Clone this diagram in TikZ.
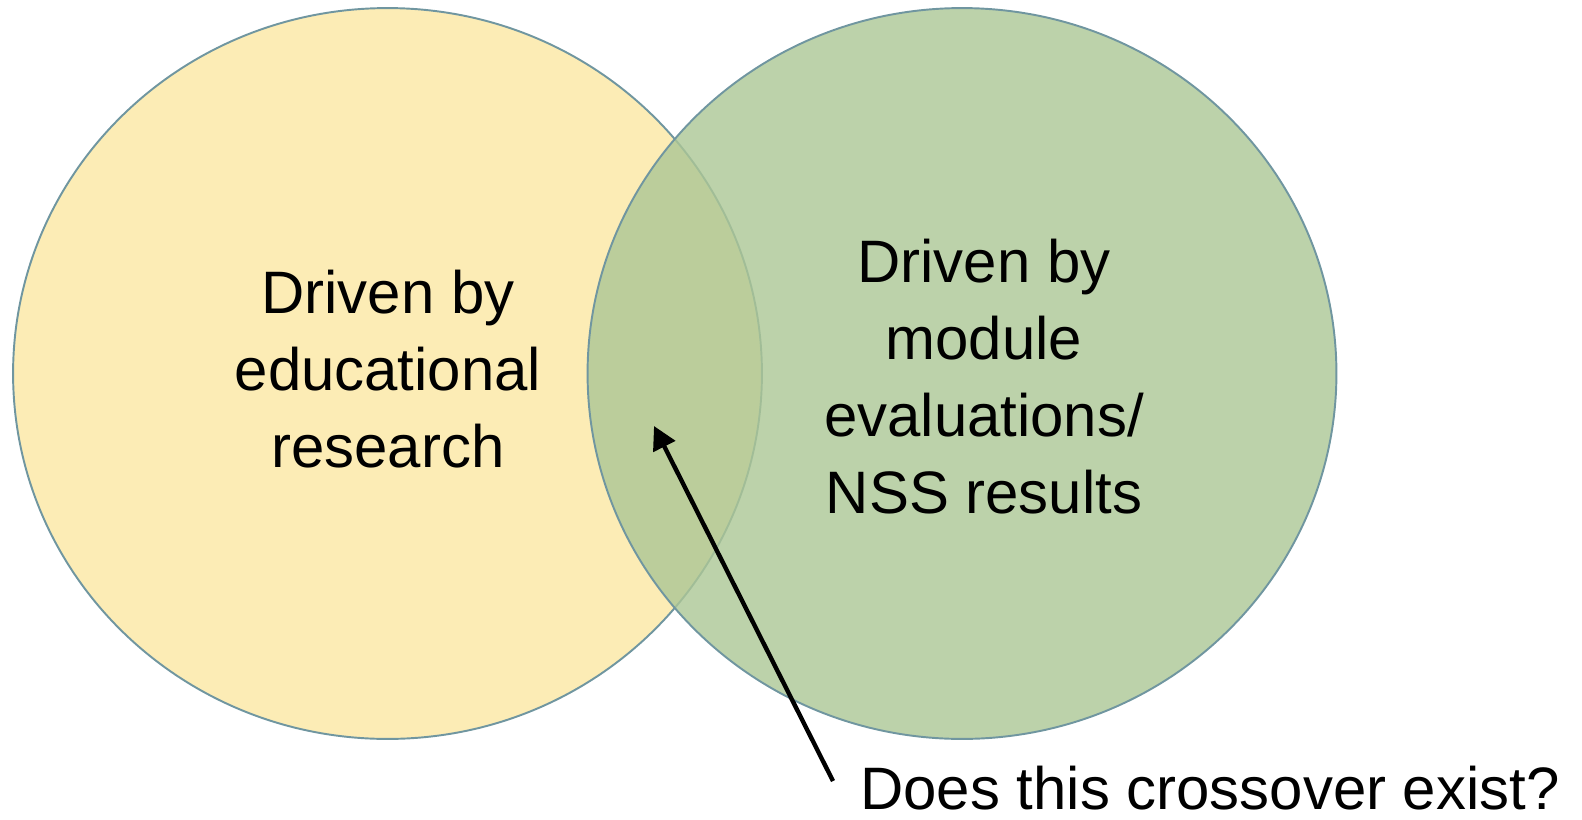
\documentclass[tikz,border=0pt]{standalone}
\usepackage{fontspec}
\setmainfont{Liberation Sans}
\usepackage{tikz}
\usetikzlibrary{arrows.meta,shapes.geometric}
\definecolor{PaleYellow}{RGB}{252,236,181}
\definecolor{SageGreen}{RGB}{173,199,150}
\definecolor{SlateLine}{RGB}{112,150,160}

\begin{document}
\begin{tikzpicture}[x=0.02cm,y=-0.02cm,
    blob/.style={ellipse,draw=SlateLine,line width=1.1pt,inner sep=0pt,
      minimum width=14.98cm,minimum height=14.62cm},
    bigtext/.style={inner sep=0pt,font=\fontsize{34.1pt}{43.8pt}\selectfont},
    words/.style={bigtext,align=center},
    pointer/.style={line width=2.5pt,-{Triangle[length=0.46cm,width=0.48cm]}}]
      \useasboundingbox (0,0) rectangle (1582,819);
      \node[blob,fill=PaleYellow] (research) at (387.5,373.5){};
      \node[blob,fill=SageGreen,fill opacity=.81] (feedback) at (962,373.5){};
      \node[words] (researchtxt) at (388,369)
        {Driven by\\educational\\research};
      \node[words] (feedbacktxt) at (984,377)
        {Driven by\\module\\evaluations/\\NSS results};
      \node[bigtext,anchor=base west] (question) at (860,809)
        {Does this crossover exist?};
      \coordinate (cross) at (654,426);
      \coordinate (tail) at (833,781);
      \draw[pointer] (tail) -- (cross);
    \end{tikzpicture}
\end{document}
